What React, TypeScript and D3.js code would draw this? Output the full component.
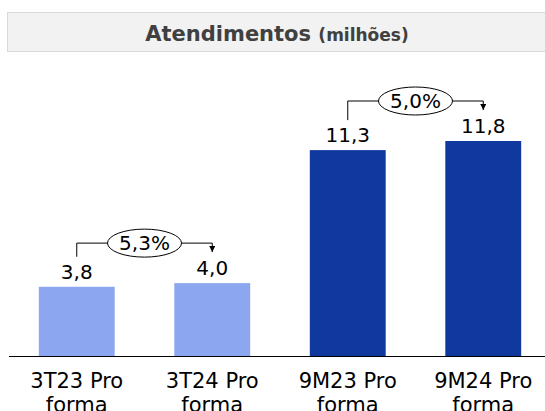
import React from "react";
import * as d3 from "d3";

const categories = ["3T23 Pro|forma", "3T24 Pro|forma", "9M23 Pro|forma", "9M24 Pro|forma"];
const values = [3.8, 4.0, 11.3, 11.8];
const valueLabels = ["3,8", "4,0", "11,3", "11,8"];
const barColors = ["#8CA7EF", "#8CA7EF", "#11389E", "#11389E"];
const growthLabels = ["5,3%", "5,0%"];
const growthPairs = [[0, 1], [2, 3]];

const W = 545, H = 411;
const baseY = 356;
const FONT = "'DejaVu Sans', sans-serif";

export default function App() {
  const x = d3.scaleBand<string>().domain(categories).range([9, 551]).paddingInner(0.44).paddingOuter(0.22);
  const y = d3.scaleLinear().domain([0, 11.8]).range([baseY, 141]);
  const cx = (i: number) => (x(categories[i]) as number) + x.bandwidth() / 2;

  return (
    <svg width={W} height={H} style={{ position: "absolute", left: 0, top: 0 }}>
      <defs>
        <marker id="arr" viewBox="0 0 6 6" refX="3" refY="6" markerWidth="6" markerHeight="6" orient="0" markerUnits="userSpaceOnUse">
          <path d="M0,0 L6,0 L3,6 Z" fill="#000" />
        </marker>
      </defs>
      <rect x={7.5} y={12.5} width={545} height={39} fill="#F2F2F2" stroke="#D9D9D9" />
      <text x={277} y={41} textAnchor="middle" fontFamily={FONT} fontWeight="bold" fill="#404040">
        <tspan fontSize={21}>Atendimentos </tspan>
        <tspan fontSize={17}>(milhões)</tspan>
      </text>
      {categories.map((c, i) => (
        <rect key={c} x={x(c)} y={y(values[i])} width={x.bandwidth()} height={baseY - y(values[i])} fill={barColors[i]} />
      ))}
      <line x1={9} x2={545} y1={baseY + 0.5} y2={baseY + 0.5} stroke="#000" strokeWidth={1.2} />
      {categories.map((c, i) => (
        <text key={"v" + c} x={cx(i)} y={y(values[i]) - 8} textAnchor="middle" fontFamily={FONT} fontSize={20} fill="#000">
          {valueLabels[i]}
        </text>
      ))}
      {categories.map((c, i) => {
        const lines = c.split("|");
        return (
          <text key={"c" + c} x={cx(i)} textAnchor="middle" fontFamily={FONT} fontSize={21} fill="#000">
            {lines.map((l, k) => (
              <tspan key={k} x={cx(i)} y={388 + k * 24}>{l}</tspan>
            ))}
          </text>
        );
      })}
      {growthPairs.map(([a, b], k) => {
        const x1 = cx(a), x2 = cx(b);
        const topY = y(values[b]) - 40;
        const startY = y(values[a]) - 30;
        const endY = y(values[b]) - 31;
        const mx = (x1 + x2) / 2;
        return (
          <g key={"g" + k}>
            <path d={`M${x1},${startY} V${topY} H${x2} V${endY}`} fill="none" stroke="#000" strokeWidth={1} markerEnd="url(#arr)" />
            <ellipse cx={mx} cy={topY} rx={37} ry={14} fill="#fff" stroke="#000" strokeWidth={1} />
            <text x={mx} y={topY + 7} textAnchor="middle" fontFamily={FONT} fontSize={20} fill="#000">
              {growthLabels[k]}
            </text>
          </g>
        );
      })}
    </svg>
  );
}
